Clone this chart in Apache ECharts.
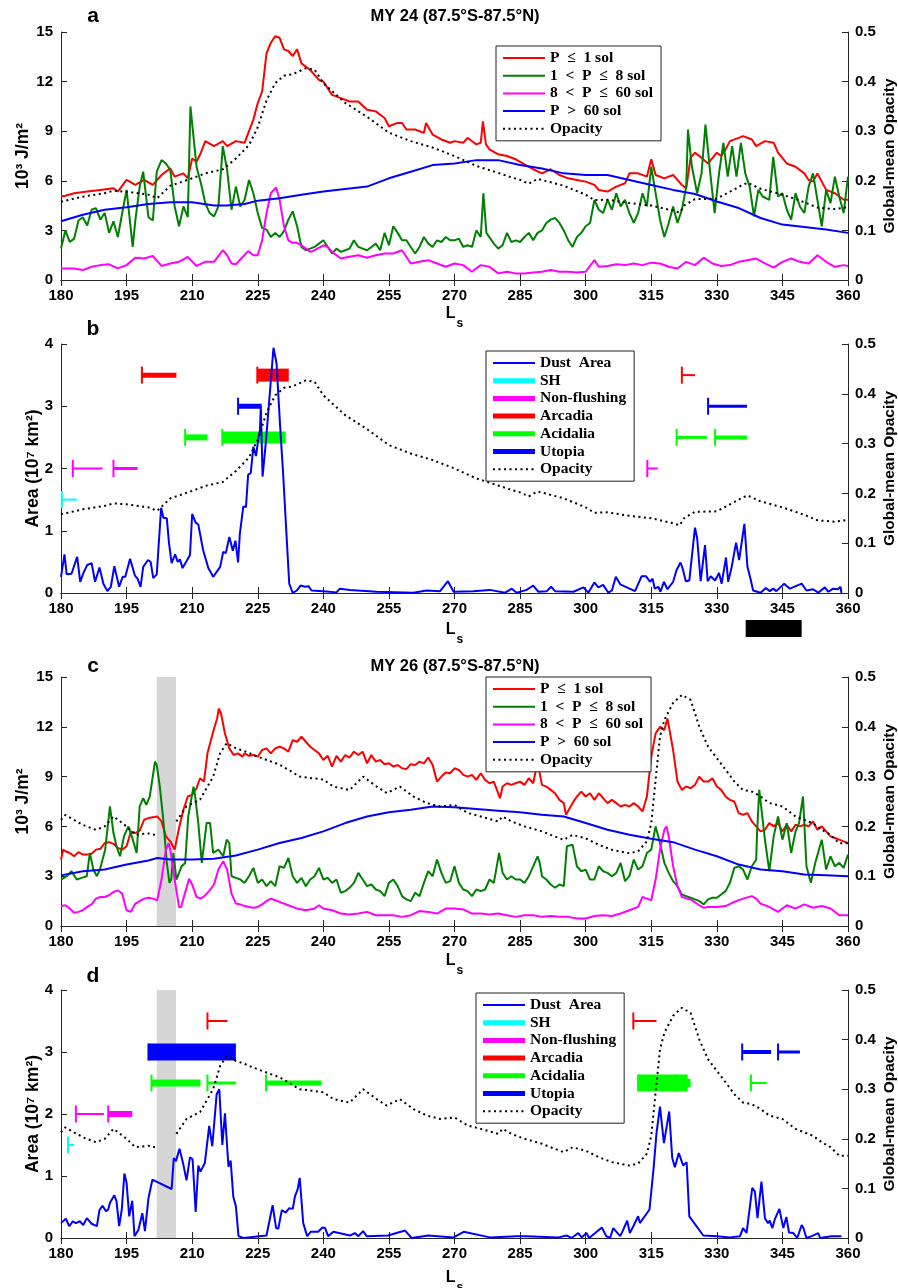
<!DOCTYPE html>
<html>
<head>
<meta charset="utf-8">
<script src="https://cdn.jsdelivr.net/npm/echarts@6/dist/echarts.min.js"></script>
<style>
  html, body { margin: 0; padding: 0; background: #fff; }
  #chart { width: 898px; height: 1288px; }
</style>
</head>
<body>
<div id="chart"></div>
<script>
// ---- MY 24 (panel a): energy by period band, 10^3 J/m^2, [Ls, value]
const my24P1 = [[180,5.05],[181,5.1],[183,5.25],[186,5.35],[189,5.45],[192,5.55],[193,5.35],[195,6.05],[197,5.75],[199,6.05],[201,5.75],[203,6.35],[205,6.75],[206,6.25],[208,6.45],[209,6.15],[210,7.35],[211,7.15],[212,7.7],[213,8.4],[215,8.1],[217,8.4],[218,8.1],[220,8.4],[222,8.3],[223,9.0],[224,9.7],[225,10.7],[226,11.4],[227,13.7],[228,14.35],[229,14.75],[230,14.65],[231,13.95],[232,13.85],[233,13.55],[234,13.95],[235,13.1],[237,12.7],[239,12.1],[240,12.0],[241,11.6],[242,11.2],[244,11.0],[246,10.8],[248,10.8],[250,10.3],[252,10.2],[254,9.8],[255,9.3],[257,9.5],[258,9.5],[259,9.1],[261,9.1],[263,8.9],[263.5,9.5],[265,8.8],[267,8.5],[269,8.3],[270,8.4],[272,8.3],[273,8.6],[275,8.2],[276,8.3],[276.5,9.6],[277.2,8.2],[278,7.9],[280,7.6],[282,7.5],[284,7.3],[286,7.0],[288,6.7],[290,6.45],[292,6.7],[294,6.35],[296,6.15],[298,6.05],[300,5.95],[302,5.75],[303,5.45],[305,5.35],[307,5.65],[309,5.85],[310,6.45],[312,6.45],[314,6.25],[315,7.3],[316,6.35],[318,6.15],[320,6.35],[322,5.75],[323,5.55],[324,7.4],[325,7.7],[326,7.5],[328,7.05],[330,7.7],[331,7.5],[332,7.9],[333,8.4],[335,8.6],[336,8.7],[338,8.5],[339,8.1],[341,8.4],[343,8.3],[344,7.7],[346,7.05],[348,6.85],[350,6.45],[351,6.05],[352,5.95],[353,6.45],[355,5.45],[357,5.25],[359,4.85],[360,4.85]];
const my24P8 = [[180,1.9],[181,3.0],[182,2.3],[183,2.5],[184,3.6],[185,3.8],[186,3.3],[187,4.25],[188,4.35],[189,3.65],[190,4.05],[191,2.85],[192,3.55],[193,2.6],[194,4.05],[195,5.45],[196.4,2.0],[197,3.6],[198,5.65],[198.8,6.55],[200,3.8],[201,3.6],[201.9,6.55],[203,7.25],[204,7.05],[205,6.65],[206,4.45],[207,3.25],[208,4.45],[209,3.8],[209.6,10.5],[211,6.85],[212,5.85],[213,4.65],[214,4.05],[215,3.85],[216,4.45],[217,8.1],[218,6.65],[219,4.25],[220,5.65],[221,4.45],[222,4.85],[223,6.05],[224,5.25],[225,4.05],[226,3.15],[227,3.05],[228,2.6],[229,2.85],[230,2.6],[231,2.95],[232,3.65],[233,4.15],[234,3.25],[235,2.0],[236,1.8],[237,1.9],[238,2.0],[239,2.2],[240,2.4],[241,2.0],[242,1.6],[243,1.9],[244,1.7],[245,1.8],[246,1.9],[247,2.4],[248,2.0],[249,1.9],[250,1.8],[251,2.0],[252,2.2],[253,1.8],[254,2.85],[255,2.1],[256,3.25],[257,2.85],[258,2.4],[259,2.4],[260,2.0],[261,1.6],[262,2.0],[263,2.6],[264,2.2],[265,2.0],[266,2.4],[267,2.3],[268,2.6],[269,2.4],[270,2.4],[271,2.5],[272,2.0],[273,2.1],[274,2.0],[275,3.0],[276,2.6],[276.6,5.25],[277.3,2.85],[279,2.2],[280,1.9],[281,2.1],[282,2.85],[283,2.3],[284,2.4],[285,2.3],[286,2.6],[287,2.85],[288,2.4],[289,2.85],[290,3.0],[291,3.45],[292,3.65],[293,3.75],[294,3.45],[295,3.0],[296,2.4],[297,2.0],[298,2.6],[299,2.85],[300,3.25],[301,3.45],[302,4.85],[303,4.25],[304,4.05],[305,4.85],[306,4.25],[307,5.25],[308,4.45],[309,4.85],[310,4.05],[311,3.45],[312,4.05],[313,5.25],[314,4.45],[315,6.85],[316,5.25],[317,3.65],[318,2.6],[319,3.45],[320,4.45],[321,3.45],[322,4.25],[323,5.65],[323.4,9.1],[324.3,6.85],[325.5,5.25],[326.5,6.45],[327.4,9.4],[328.5,6.45],[329.5,4.05],[330.5,6.45],[331.5,8.3],[332.5,6.25],[333.5,8.1],[334.5,6.25],[335.5,8.3],[336.5,6.45],[337.5,5.65],[338.5,3.85],[339.5,5.45],[340.5,5.05],[342,4.85],[342.9,7.45],[344,5.05],[345,5.25],[346,4.25],[347,3.65],[348,5.25],[349,4.45],[350,4.05],[351,5.65],[352,6.45],[353,4.85],[354,3.25],[355,5.45],[356,4.65],[357,6.25],[358,5.05],[359,4.05],[360,6.25]];
const my24P60 = [[180,0.7],[183,0.7],[185,0.6],[187,0.8],[189,0.9],[191,0.95],[193,0.7],[195,0.9],[197,1.35],[199,1.3],[201,1.45],[203,0.85],[205,1.0],[207,1.1],[209,1.4],[211,0.85],[213,1.1],[215,1.1],[217,1.8],[218,1.5],[219,1.0],[220,0.95],[222.8,1.75],[224,1.5],[225,1.5],[226,2.4],[227,4.05],[228,5.25],[229.2,5.6],[230,4.85],[231,3.25],[232,2.4],[233,2.25],[234,2.25],[235,2.1],[236,1.9],[237,1.7],[238,1.8],[240,2.1],[241,2.0],[242,1.7],[244,1.3],[246,1.4],[248,1.5],[250,1.35],[252,1.5],[254,1.6],[256,1.6],[258,1.8],[260,1.0],[262,1.1],[264,1.2],[266,1.0],[268,0.8],[270,1.0],[272,0.9],[274,0.5],[276,0.9],[278,0.8],[280,0.4],[282,0.5],[284,0.4],[286,0.4],[288,0.45],[290,0.5],[292,0.6],[294,0.5],[296,0.5],[298,0.45],[300,0.5],[302,1.2],[303,0.8],[305,0.85],[307,0.95],[309,0.9],[311,1.0],[313,0.9],[315,1.05],[317,1.0],[319,0.8],[321,0.7],[323,1.1],[325,0.9],[327,1.35],[329,1.0],[331,0.85],[333,0.9],[335,1.1],[337,1.2],[339,1.3],[341,1.0],[343,0.75],[345,1.1],[347,1.3],[349,1.1],[351,1.0],[353,1.5],[355,1.1],[357,0.8],[359,0.9],[360,0.85]];
const my24PLong = [[180,3.55],[185,3.95],[190,4.25],[195,4.4],[200,4.6],[205,4.7],[210,4.7],[215,4.5],[218,4.5],[222,4.6],[225,4.8],[230,4.95],[235,5.15],[240,5.35],[245,5.5],[250,5.65],[255,6.15],[260,6.55],[265,6.95],[270,7.05],[275,7.25],[280,7.25],[285,6.95],[290,6.75],[295,6.45],[300,6.35],[305,6.35],[310,6.05],[315,5.75],[320,5.45],[325,5.2],[330,4.75],[335,4.35],[340,3.75],[345,3.35],[350,3.2],[355,3.05],[360,2.85]];
const my24Opacity = [[180,0.158],[185,0.168],[190,0.175],[192,0.18],[195,0.178],[200,0.172],[202,0.165],[205,0.19],[210,0.205],[213,0.215],[217,0.223],[220,0.245],[223,0.272],[225,0.308],[227,0.362],[229,0.397],[231,0.412],[233,0.415],[236,0.427],[238,0.424],[240,0.397],[245,0.357],[250,0.329],[255,0.297],[260,0.28],[265,0.267],[270,0.25],[275,0.23],[280,0.216],[283,0.207],[285,0.202],[287,0.194],[289,0.204],[292,0.197],[295,0.19],[300,0.172],[302,0.161],[305,0.162],[310,0.155],[315,0.15],[320,0.14],[321.5,0.136],[322.5,0.15],[325,0.163],[330,0.164],[333,0.178],[336,0.192],[337,0.196],[340,0.184],[345,0.172],[350,0.157],[353,0.146],[357,0.143],[360,0.147]];

// ---- MY 24 (panel b): dust storm area, 10^7 km^2
const my24Area = [[180,0.26],[180.8,0.62],[181.3,0.3],[182.4,0.31],[183.7,0.58],[184.4,0.18],[185.1,0.32],[186,0.45],[187,0.48],[187.8,0.18],[188.8,0.41],[189.7,0.15],[190.6,0.03],[191.4,0.1],[192.2,0.43],[193.3,0.1],[194.1,0.26],[194.7,0.26],[195.8,0.55],[196.9,0.28],[197.5,0.23],[198.2,0.1],[198.8,0.42],[199.9,0.53],[200.5,0.5],[201.1,0.24],[201.9,0.3],[202.9,1.37],[203.4,1.21],[204.2,1.2],[204.7,0.8],[205.3,0.48],[206.1,0.62],[206.7,0.5],[207.2,0.54],[207.8,0.4],[208.7,0.51],[209.5,0.61],[210,1.27],[210.8,1.13],[211.4,1.1],[212.5,0.69],[213.7,0.4],[214.8,0.26],[216.4,0.42],[217.1,0.66],[217.7,0.64],[218.5,0.9],[219.3,0.68],[219.9,0.84],[220.5,0.49],[220.9,0.95],[221.7,1.39],[222.3,1.38],[222.8,1.9],[223.4,1.93],[224,2.35],[224.6,2.2],[225.2,2.51],[225.5,2.61],[225.7,3.0],[226.1,1.87],[226.9,2.46],[228.6,3.94],[229.3,3.69],[230.1,2.7],[230.8,1.92],[232.2,0.15],[233,0.0],[233.9,0.04],[234.8,0.12],[235.8,0.1],[236.6,0.11],[237.3,0.04],[240,0.03],[243,0.01],[243.8,0.07],[246.1,0.05],[252.2,0.02],[260.6,0.005],[263.6,0.04],[266.7,0.03],[268.5,0.19],[269.8,0.02],[274.3,0.03],[278.1,0.05],[281.6,0.005],[283.1,0.07],[284.2,0.005],[286.5,0.05],[288,0.12],[289.2,0.02],[291.1,0.03],[292.1,0.1],[293,0.03],[297.2,0.02],[299.5,0.09],[300.6,0.005],[302,0.17],[302.9,0.09],[304,0.13],[305.2,0.005],[306,0.04],[306.9,0.26],[307.9,0.14],[311.3,0.03],[312.8,0.27],[313.8,0.27],[314.7,0.18],[315.3,0.23],[315.8,0.07],[316.6,0.1],[317.1,0.02],[317.9,0.18],[318.7,0.06],[320,0.18],[320.8,0.37],[321.2,0.38],[321.7,0.49],[322.2,0.39],[322.9,0.19],[323.7,0.2],[325,1.05],[325.5,0.88],[326.3,0.19],[327.3,0.77],[327.9,0.19],[328.6,0.27],[329.6,0.2],[330.5,0.32],[331.1,0.15],[332.1,0.57],[332.6,0.18],[333.4,0.42],[334.4,0.81],[335.1,0.53],[336.3,1.11],[337,0.42],[337.7,0.23],[338.3,0.04],[340,0.005],[341.2,0.08],[342.1,0.03],[342.9,0.07],[343.6,0.03],[345.4,0.15],[346.7,0.07],[349.4,0.15],[350.5,0.04],[352,0.06],[353.2,0.005],[354.7,0.09],[355.5,0.02],[356.6,0.07],[357.7,0.06],[358.3,0.1],[358.5,0.0]];

// MY 24 regional storm events: [start Ls, end Ls, bar weight]
const ev24SH = [[180.2,183.7,2]];
const ev24NonFlush = [[182.7,189.5,2],[192.0,197.5,3],[314.1,316.5,2]];
const ev24Arcadia = [[198.5,206.4,5],[224.9,232.1,13],[322.0,325.0,2]];
const ev24Acidalia = [[208.4,213.5,6],[216.9,231.4,12],[320.8,327.7,3],[329.6,336.9,4]];
const ev24Utopia = [[220.5,225.9,5],[328.0,336.9,3]];
const my24Dark = [[336.6,349.4]];

// ---- MY 26 (panel c)
const my26P1 = [[180,4.0],[180.5,4.6],[181,4.5],[182,4.4],[183,4.2],[184,4.45],[185,4.3],[186,4.3],[187,4.35],[188,4.6],[189,4.65],[190,5.0],[191,5.05],[192,4.95],[193,4.7],[194,4.6],[195,4.8],[196,5.7],[197,5.6],[198,5.75],[199,6.4],[200,6.5],[201,6.55],[202,6.6],[203,6.3],[204,5.4],[205,5.1],[206,4.6],[207,5.9],[208,7.0],[209,7.8],[210,7.9],[211,8.3],[211.8,8.9],[212.7,8.7],[213.5,10.4],[214.8,11.7],[215.7,12.5],[216.1,13.1],[216.6,12.8],[217.5,11.6],[218.5,10.7],[219.5,10.3],[220.5,10.4],[221.5,10.2],[222,10.4],[223,10.25],[224,10.3],[225,10.2],[226,10.6],[227,10.7],[228,10.4],[229,10.7],[230,10.8],[231,10.7],[232,10.5],[233,11.2],[234,11.1],[235,11.4],[236,11.1],[237,10.8],[238,10.6],[239,10.4],[240,10.0],[241,10.25],[242,9.6],[243,10.25],[244,9.9],[245,10.3],[246,10.15],[247,10.5],[248,10.3],[249,10.5],[250,9.8],[251,10.3],[252,9.9],[253,10.0],[254,9.75],[255,9.8],[256,9.6],[257,9.7],[258,9.5],[259,9.45],[260,9.75],[261,9.7],[262,9.9],[263,9.8],[264,10.15],[265,9.7],[266,8.7],[267,9.0],[268,9.25],[269,9.2],[270,9.5],[271,9.4],[272,9.1],[273,9.0],[274,9.1],[275,8.8],[276,9.2],[277,8.8],[278,8.6],[279,8.7],[280.4,7.7],[281,8.4],[282,8.6],[283,8.5],[284,8.6],[285,8.7],[286,8.5],[287,8.9],[288,8.6],[289,9.9],[290,8.5],[291,8.4],[292,8.2],[293,8.0],[294,7.6],[295,7.4],[295.5,6.7],[297,7.4],[298,7.8],[299,8.1],[300,7.8],[301,8.0],[302,7.6],[303,8.0],[304,7.7],[305,7.4],[306,7.6],[307,7.4],[308,7.2],[309,7.3],[310,7.2],[311,7.4],[312,7.2],[313,6.9],[314,7.8],[315,10.2],[316,11.6],[317,12.0],[318,11.8],[318.7,12.5],[320,10.6],[321,8.7],[322,8.2],[323,8.4],[324,8.3],[325,8.5],[326,9.0],[327,8.7],[328,8.7],[329,8.9],[330,8.4],[331,8.2],[332,7.8],[333,7.6],[334,7.5],[335,6.8],[336,6.7],[337,6.8],[338,6.3],[339,6.0],[340,5.7],[341,5.8],[342,6.2],[343,6.0],[344,6.2],[345,5.7],[346,6.1],[347,5.7],[348,6.1],[349,6.0],[350,6.1],[351,6.0],[352,6.3],[353,5.8],[354,6.0],[355,5.7],[356,5.4],[357,5.3],[358,5.2],[359,5.1],[360,5.0]];
const my26P8 = [[180,2.8],[181.3,3.0],[182.4,3.3],[183.6,2.8],[184.7,2.9],[185.9,3.0],[186.6,4.4],[187.4,3.4],[188.2,3.0],[188.9,3.4],[190.1,4.6],[191.2,7.2],[192,5.6],[192.7,4.8],[193.5,4.2],[194.4,5.4],[195.4,6.0],[196.2,5.4],[197.3,4.4],[198,7.2],[198.8,7.7],[199.5,7.3],[200.3,7.8],[201.5,9.9],[201.9,9.7],[202.6,8.4],[203.4,6.4],[204.2,3.8],[204.8,2.6],[205.2,2.8],[205.7,4.4],[206.4,2.8],[207.6,3.6],[208.4,3.8],[209.1,6.6],[210.3,8.4],[210.7,7.8],[211.4,6.2],[212.2,3.8],[213.3,6.2],[214.1,6.2],[214.8,4.4],[216,4.6],[217.1,4.2],[217.9,5.2],[218.5,5.0],[219,3.0],[220,2.9],[221,2.8],[222,2.6],[223,3.0],[224,3.5],[225,2.6],[226,2.8],[227,2.4],[228,2.7],[229,2.4],[230,3.6],[231,3.5],[232,4.1],[233,3.0],[234,2.6],[235,2.9],[236,2.4],[237,2.8],[238,3.0],[239,3.5],[240,2.8],[241,2.9],[242,2.6],[243,2.8],[244,2.0],[245,2.1],[246,2.3],[247,2.6],[248,3.2],[249,2.8],[250,2.4],[251,2.5],[252,2.2],[253,2.1],[254,1.8],[255,2.6],[256,2.8],[257,2.4],[258,1.8],[259,1.6],[260,1.5],[261,2.0],[262,1.8],[263,2.6],[264,3.3],[265,3.0],[266,4.0],[267,3.2],[268,2.6],[269,2.7],[270,3.6],[271,2.6],[272,2.2],[273,2.1],[274,1.8],[275,2.2],[276,2.1],[277,2.2],[278,2.8],[279,2.6],[280.2,4.4],[281,3.2],[282,2.8],[283,3.0],[284,2.8],[285,2.8],[286,2.6],[287,3.0],[289,4.2],[289.5,3.8],[290,3.0],[291,2.8],[292,2.5],[293,2.3],[294,2.5],[295,2.4],[295.7,4.8],[297,4.9],[298,3.6],[299,3.3],[300,3.4],[301,2.8],[302,2.8],[303,3.6],[304,3.3],[305,3.2],[306,3.0],[307,3.2],[308,3.8],[309,2.7],[310,3.0],[311,4.0],[312,3.4],[313,3.6],[314,4.4],[315,4.6],[316,6.0],[317,5.0],[318,3.8],[319,3.2],[320,2.7],[321,2.4],[322,1.9],[323,1.8],[324,1.7],[325,1.6],[326,1.5],[327,1.3],[328,1.6],[329,1.7],[330,1.7],[331,1.9],[332,2.1],[333,2.6],[334,3.5],[335,3.6],[336,3.4],[337,2.8],[338,3.6],[339,4.0],[339.2,5.6],[339.7,8.2],[341,5.2],[342,3.3],[343,5.4],[344,6.6],[345,5.2],[346,6.2],[347,4.4],[348,5.7],[348.8,6.2],[349.7,7.8],[350.5,3.6],[351.5,2.6],[352.5,3.8],[354,5.2],[355,3.4],[356,4.2],[357,3.6],[358,3.8],[359,3.5],[360,4.3]];
const my26P60 = [[180,1.2],[181,1.25],[182,1.05],[183,0.8],[184,0.85],[185,0.95],[186,1.15],[187,1.3],[188,1.65],[189,1.75],[190,1.75],[191,1.85],[192,2.05],[193,2.15],[194,1.95],[195,0.95],[196,0.85],[197,1.35],[198,1.5],[199,1.65],[200,1.7],[201,1.65],[202,1.55],[203,2.8],[204,4.6],[204.6,5.0],[205,4.6],[206,2.8],[207,1.15],[207.5,1.15],[208,1.65],[209.3,2.85],[210,2.5],[211,1.75],[212,1.65],[213,1.85],[214,2.15],[215,2.5],[216,3.4],[217.1,3.9],[218,3.4],[219,1.95],[220,1.35],[221,1.3],[222,1.2],[223,1.15],[224,1.1],[225,1.15],[226,1.3],[227,1.5],[228,1.65],[229,1.55],[230,1.45],[232,1.25],[234,1.05],[236,0.95],[238,1.05],[239,1.25],[240,1.05],[242,0.95],[244,0.75],[246,0.7],[248,0.75],[250,0.85],[252,0.65],[254,0.65],[256,0.65],[258,0.55],[260,0.65],[262,0.9],[264,0.85],[266,0.75],[268,1.05],[270,1.05],[272,1.0],[274,0.75],[276,0.75],[278,0.7],[280,0.75],[282,0.65],[284,0.55],[286,0.65],[288,0.65],[290,0.55],[292,0.6],[294,0.55],[296,0.55],[298,0.45],[300,0.45],[302,0.6],[304,0.65],[306,0.6],[308,0.75],[310,0.95],[312,1.15],[313,1.75],[314,1.65],[315,1.55],[316,2.8],[317,4.6],[318,5.8],[318.5,6.0],[319,5.4],[320,3.6],[321,2.4],[322,1.75],[324,1.6],[326,1.25],[327,1.1],[328,1.15],[330,1.15],[332,1.2],[334,1.45],[336,1.65],[338,1.8],[339,1.65],[340,1.35],[342,1.15],[344,0.85],[346,1.25],[348,1.05],[350,1.3],[352,1.1],[354,1.2],[356,1.05],[358,0.65],[360,0.65]];
const my26PLong = [[180,3.05],[185,3.3],[190,3.4],[195,3.7],[200,3.95],[202,4.1],[205,4.0],[210,4.0],[215,4.05],[220,4.25],[225,4.6],[230,5.0],[235,5.3],[240,5.7],[245,6.2],[250,6.6],[255,6.85],[260,7.0],[265,7.2],[270,7.15],[275,7.05],[280,6.95],[285,6.85],[290,6.7],[295,6.6],[300,6.2],[305,5.8],[310,5.5],[315,5.25],[320,5.05],[325,4.6],[330,4.2],[335,3.7],[340,3.4],[345,3.3],[350,3.1],[355,3.05],[360,3.0]];
const my26Opacity = [[180,0.213],[181,0.223],[185,0.203],[188,0.193],[190,0.2],[192,0.22],[195,0.2],[197,0.183],[200,0.186],[201.5,0.183],[203.5,null],[206.4,0.21],[208.7,0.24],[211.8,0.254],[214.8,0.3],[216.4,0.347],[217.9,0.367],[220,0.357],[222,0.351],[225,0.34],[230,0.324],[234.6,0.3],[240,0.294],[242.3,0.28],[246,0.273],[249.1,0.3],[252.2,0.28],[254.5,0.267],[257.5,0.28],[260.6,0.26],[263.6,0.247],[266.7,0.24],[270,0.243],[273,0.227],[276,0.22],[280,0.21],[281,0.22],[283,0.21],[286,0.2],[290,0.19],[292,0.183],[295,0.173],[297,0.183],[300,0.176],[303,0.163],[306,0.153],[310,0.146],[312,0.15],[314,0.17],[315,0.206],[316,0.294],[317,0.38],[318,0.414],[320,0.448],[322,0.464],[324,0.454],[326,0.4],[328,0.36],[330,0.337],[332,0.314],[334,0.29],[336,0.273],[338,0.27],[340,0.26],[342,0.247],[345,0.24],[348,0.22],[350,0.213],[352,0.206],[354,0.193],[356,0.183],[358,0.166],[360,0.166]];

// ---- MY 26 (panel d): dust storm area
const my26Area = [[180,0.24],[181.1,0.31],[181.9,0.19],[182.7,0.27],[183.4,0.24],[184.3,0.27],[185.1,0.21],[185.9,0.32],[187,0.23],[188.2,0.19],[188.8,0.45],[189.5,0.52],[190.3,0.43],[190.8,0.46],[191.2,0.57],[192.2,0.69],[192.7,0.59],[193.3,0.19],[193.9,0.46],[194.5,1.04],[195,0.89],[195.6,0.35],[196.3,0.6],[196.8,0.03],[197.7,0.13],[198.6,0.4],[199.2,0.11],[200,0.64],[200.9,0.94],[205.3,0.79],[205.8,1.29],[206.3,1.24],[207.1,1.44],[208,1.18],[208.7,0.93],[209.5,1.3],[210.1,1.27],[210.8,0.42],[211.4,1.17],[211.9,1.07],[212.9,1.21],[213.9,1.81],[214.6,1.48],[215.6,2.32],[216.2,2.4],[216.9,1.5],[217.5,2.01],[218.3,1.15],[218.8,1.25],[219.4,0.67],[220,0.51],[220.6,0.03],[221.7,0.0],[227,0.04],[228.4,0.53],[229.2,0.16],[229.7,0.15],[230.5,0.45],[231.4,0.41],[232.2,0.48],[233,0.47],[233.5,0.67],[234.1,0.78],[234.6,0.97],[235.4,0.24],[236.3,0.03],[237.1,0.1],[238.8,0.1],[239.8,0.17],[240.4,0.16],[241.1,0.03],[242.3,0.1],[246.1,0.04],[247.2,0.08],[248,0.03],[249.1,0.11],[249.9,0.03],[254.8,0.04],[258.7,0.12],[260.2,0.0],[264,0.04],[269.8,0.01],[272.1,0.1],[278.1,0.01],[284.2,0.03],[286.5,0.03],[293.8,0.01],[295.7,0.04],[296.8,0.0],[298.3,0.08],[299.1,0.01],[300.2,0.08],[300.8,0.0],[303.7,0.17],[304.7,0.03],[305.6,0.0],[306.3,0.16],[307.9,0.03],[308.5,0.12],[309.5,0.28],[310.1,0.08],[310.9,0.19],[312,0.35],[312.4,0.24],[314.6,0.46],[315.5,1.1],[316.2,1.69],[317,2.12],[317.9,1.53],[319.1,2.04],[319.8,1.29],[320.4,1.14],[321.3,1.37],[322.3,1.17],[323.1,1.22],[323.7,0.35],[326.9,0.04],[330,0.03],[333,0.01],[335.3,0.03],[336,0.16],[336.8,0.08],[338.1,0.81],[338.7,0.75],[339.3,0.32],[340.2,0.91],[341,0.32],[341.7,0.24],[342.1,0.28],[342.7,0.16],[343.3,0.31],[344.3,0.47],[345.2,0.16],[345.9,0.34],[346.5,0.09],[347.5,0.08],[348.4,0.0],[349.4,0.21],[349.8,0.16],[350.5,0.0],[351.7,0.03],[353.2,0.08],[353.6,0.0],[356.2,0.03],[358.5,0.03]];

const ev26SH = [[181.6,183.0,2]];
const ev26NonFlush = [[183.4,189.8,2],[190.8,196.3,6]];
const ev26Arcadia = [[213.5,218.1,2],[310.9,316.2,2]];
const ev26Acidalia = [[200.7,211.9,7],[213.5,220.0,3],[226.9,239.6,5],[312.0,320.6,17],[320.6,323.1,17],[323.1,324.0,8],[337.8,341.4,2]];
const ev26Utopia = [[200.0,220.0,17],[335.8,342.4,4],[344.0,349.0,3]];
const my26Gap = [[201.9,206.3]];

const eventLevels = { SH: 1.5, 'Non-flushing': 2.0, Arcadia: 3.5, Acidalia: 2.5, Utopia: 3.0 };

// ---- styling
const SANS = '"Liberation Sans", Arial, Helvetica, sans-serif';
const SERIF = '"Liberation Serif", "Times New Roman", serif';
const AXIS_COLOR = '#262626';
const NAME_P1 = 'P  \u2264  1 sol';
const NAME_P8 = '1  <  P  \u2264  8 sol';
const NAME_P60 = '8  <  P  \u2264  60 sol';
const NAME_PL = 'P  >  60 sol';
const NAME_OP = 'Opacity';
const NAME_DA = 'Dust  Area';

const gridTops = [32, 344, 677, 990];
const gridHeights = [248, 249, 249, 248];

function bottomAxis(g, gap) {
  return {
    gridIndex: g, type: 'value', min: 180, max: 360, interval: 15, position: 'bottom',
    axisLine: { lineStyle: { color: AXIS_COLOR, width: 1 } },
    axisTick: { inside: true, length: 6, lineStyle: { color: AXIS_COLOR } },
    axisLabel: { color: '#000', fontFamily: SANS, fontWeight: 'bold', fontSize: 15, margin: 8 },
    splitLine: { show: false },
    name: '{L|L}{s|s}', nameLocation: 'middle', nameGap: gap,
    nameTextStyle: {
      rich: {
        L: { fontFamily: SANS, fontWeight: 'bold', fontSize: 16, color: '#000' },
        s: { fontFamily: SANS, fontWeight: 'bold', fontSize: 12, color: '#000', padding: [20, 0, 0, 1] }
      }
    }
  };
}
function topAxis(g) {
  return {
    gridIndex: g, type: 'value', min: 180, max: 360, interval: 15, position: 'top',
    axisLine: { lineStyle: { color: AXIS_COLOR, width: 1 } },
    axisTick: { inside: true, length: 6, lineStyle: { color: AXIS_COLOR } },
    axisLabel: { show: false }, splitLine: { show: false }
  };
}
function leftAxis(g, max, interval, name, gap) {
  return {
    gridIndex: g, type: 'value', min: 0, max: max, interval: interval, position: 'left',
    axisLine: { show: true, lineStyle: { color: AXIS_COLOR, width: 1 } },
    axisTick: { show: true, inside: true, length: 6, lineStyle: { color: AXIS_COLOR } },
    axisLabel: { color: '#000', fontFamily: SANS, fontWeight: 'bold', fontSize: 15, margin: 8 },
    splitLine: { show: false },
    name: name, nameLocation: 'middle', nameRotate: 90, nameGap: gap, nameMoveOverlap: false,
    nameTextStyle: { fontFamily: SANS, fontWeight: 'bold', fontSize: 17.5, color: '#000' }
  };
}
function rightAxis(g) {
  return {
    gridIndex: g, type: 'value', min: 0, max: 0.5, interval: 0.1, position: 'right',
    axisLine: { show: true, lineStyle: { color: AXIS_COLOR, width: 1 } },
    axisTick: { show: true, inside: true, length: 6, lineStyle: { color: AXIS_COLOR } },
    axisLabel: { color: '#000', fontFamily: SANS, fontWeight: 'bold', fontSize: 15, margin: 7,
      formatter: v => (v === 0 ? '0' : v.toFixed(1)) },
    splitLine: { show: false },
    name: 'Global-mean Opacity', nameLocation: 'middle', nameRotate: 90, nameGap: 34, nameMoveOverlap: false,
    nameTextStyle: { fontFamily: SANS, fontWeight: 'bold', fontSize: 15.5, color: '#000' }
  };
}

function line(name, data, color, g, onRight) {
  return {
    type: 'line', name: name, data: data,
    xAxisIndex: 2 * g, yAxisIndex: 2 * g + (onRight ? 1 : 0),
    symbol: 'none', showSymbol: false, connectNulls: false, clip: true,
    lineStyle: { color: color, width: 2 }, itemStyle: { color: color },
    animation: false
  };
}
function opacityLine(data, g) {
  const s = line(NAME_OP, data, '#000', g, true);
  s.lineStyle = { color: '#000', width: 2, type: [2, 3.5] };
  return s;
}
function eventSeries(name, list, color, g) {
  const level = eventLevels[name];
  return {
    type: 'custom', name: name, xAxisIndex: 2 * g, yAxisIndex: 2 * g,
    itemStyle: { color: color }, animation: false,
    data: list.map(e => [e[0], e[1], level, e[2]]),
    encode: { x: [0, 1], y: 2 },
    renderItem: (params, api) => {
      const a = api.coord([api.value(0), api.value(2)]);
      const b = api.coord([api.value(1), api.value(2)]);
      const w = api.value(3);
      return {
        type: 'group',
        children: [
          { type: 'rect', shape: { x: a[0], y: a[1] - w / 2, width: b[0] - a[0], height: w }, style: { fill: color } },
          { type: 'rect', shape: { x: a[0] - 1, y: a[1] - 8.5, width: 2, height: 17 }, style: { fill: color } }
        ]
      };
    }
  };
}
function bandSeries(data, g, top) {
  return {
    type: 'custom', name: 'gap', xAxisIndex: 2 * g, yAxisIndex: 2 * g, z: 1, animation: false,
    data: data, encode: { x: [0, 1] },
    renderItem: (params, api) => {
      const a = api.coord([api.value(0), top]);
      const b = api.coord([api.value(1), 0]);
      return { type: 'rect', shape: { x: a[0], y: a[1], width: b[0] - a[0], height: b[1] - a[1] }, style: { fill: '#d6d6d6' } };
    }
  };
}
function darkBoxSeries(data, g) {
  return {
    type: 'custom', name: 'dark', xAxisIndex: 2 * g, yAxisIndex: 2 * g, animation: false, clip: false,
    data: data, encode: { x: [0, 1] },
    renderItem: (params, api) => {
      const a = api.coord([api.value(0), 0]);
      const b = api.coord([api.value(1), 0]);
      return { type: 'rect', shape: { x: a[0], y: a[1] + 27, width: b[0] - a[0], height: 17 }, style: { fill: '#000' } };
    }
  };
}

function legendBox(left, top, names, itemHeight) {
  return {
    left: left, top: top, orient: 'vertical', selectedMode: false,
    data: names, itemWidth: 42, itemHeight: itemHeight, itemGap: 1.7,
    padding: [4, 8, 4, 6], borderColor: '#222', borderWidth: 1, backgroundColor: '#fff',
    textStyle: { fontFamily: SERIF, fontWeight: 'bold', fontSize: 15.5, color: '#000', lineHeight: 14 }
  };
}
// line entries: hide the legend symbol so only the stroke shows
const lineEntry = name => ({ name: name, itemStyle: { opacity: 0 } });
const energyNames = [NAME_P1, NAME_P8, NAME_P60, NAME_PL, NAME_OP].map(lineEntry);
const areaNames = [lineEntry(NAME_DA),
  { name: 'SH', icon: 'rect' }, { name: 'Non-flushing', icon: 'rect' }, { name: 'Arcadia', icon: 'rect' },
  { name: 'Acidalia', icon: 'rect' }, { name: 'Utopia', icon: 'rect' }, lineEntry(NAME_OP)];

function label(text, x, y, size) {
  return { type: 'text', x: x, y: y, z: 10,
    style: { text: text, fill: '#000', fontFamily: SANS, fontWeight: 'bold', fontSize: size, align: 'center', verticalAlign: 'middle' } };
}

const option = {
  animation: false,
  backgroundColor: '#fff',
  grid: gridTops.map((t, i) => ({ left: 61, width: 787, top: t, height: gridHeights[i], outerBoundsMode: 'none', containLabel: false })),
  xAxis: [
    bottomAxis(0, 18), topAxis(0),
    bottomAxis(1, 21), topAxis(1),
    bottomAxis(2, 19), topAxis(2),
    bottomAxis(3, 24), topAxis(3)
  ],
  yAxis: [
    leftAxis(0, 15, 3, '10\u00b3 J/m\u00b2', 29), rightAxis(0),
    leftAxis(1, 4, 1, 'Area (10\u2077 km\u00b2)', 19), rightAxis(1),
    leftAxis(2, 15, 3, '10\u00b3 J/m\u00b2', 29), rightAxis(2),
    leftAxis(3, 4, 1, 'Area (10\u2077 km\u00b2)', 19), rightAxis(3)
  ],
  legend: [
    legendBox(496, 46, energyNames, 14),
    legendBox(486, 351, areaNames, 5),
    legendBox(486, 677, energyNames, 14),
    legendBox(476, 993, areaNames, 5)
  ],
  graphic: [
    label('a', 93, 16, 21), label('MY 24 (87.5\u00b0S-87.5\u00b0N)', 455, 16, 16.5),
    label('b', 93, 329, 21),
    label('c', 93, 666, 21), label('MY 26 (87.5\u00b0S-87.5\u00b0N)', 455, 666, 16.5),
    label('d', 93, 976, 21)
  ],
  series: [
    // panel a
    line(NAME_P1, my24P1, '#ff0000', 0),
    line(NAME_P8, my24P8, '#008000', 0),
    line(NAME_P60, my24P60, '#ff00ff', 0),
    line(NAME_PL, my24PLong, '#0000ff', 0),
    opacityLine(my24Opacity, 0),
    // panel b
    eventSeries('SH', ev24SH, '#00ffff', 1),
    eventSeries('Non-flushing', ev24NonFlush, '#ff00ff', 1),
    eventSeries('Arcadia', ev24Arcadia, '#ff0000', 1),
    eventSeries('Acidalia', ev24Acidalia, '#00ff00', 1),
    eventSeries('Utopia', ev24Utopia, '#0000ff', 1),
    line(NAME_DA, my24Area, '#0000ff', 1),
    opacityLine(my24Opacity, 1),
    darkBoxSeries(my24Dark, 1),
    // panel c
    bandSeries(my26Gap, 2, 15),
    line(NAME_P1, my26P1, '#ff0000', 2),
    line(NAME_P8, my26P8, '#008000', 2),
    line(NAME_P60, my26P60, '#ff00ff', 2),
    line(NAME_PL, my26PLong, '#0000ff', 2),
    opacityLine(my26Opacity, 2),
    // panel d
    bandSeries(my26Gap, 3, 4),
    eventSeries('SH', ev26SH, '#00ffff', 3),
    eventSeries('Non-flushing', ev26NonFlush, '#ff00ff', 3),
    eventSeries('Arcadia', ev26Arcadia, '#ff0000', 3),
    eventSeries('Acidalia', ev26Acidalia, '#00ff00', 3),
    eventSeries('Utopia', ev26Utopia, '#0000ff', 3),
    line(NAME_DA, my26Area, '#0000ff', 3),
    opacityLine(my26Opacity, 3)
  ]
};

const chart = echarts.init(document.getElementById('chart'), null, { renderer: 'canvas' });
chart.setOption(option);
</script>
</body>
</html>
